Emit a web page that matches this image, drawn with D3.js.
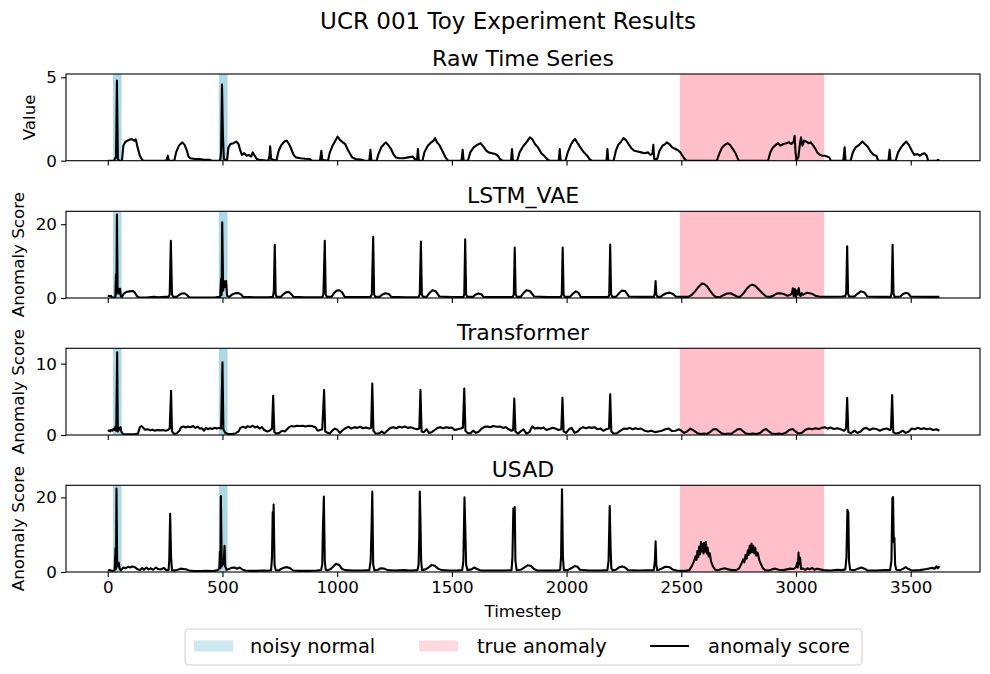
<!DOCTYPE html>
<html>
<head>
<meta charset="utf-8">
<title>UCR 001 Toy Experiment Results</title>
<script src="https://cdn.jsdelivr.net/npm/d3@7"></script>
<style>
  body { margin: 0; background: #fff; }
  svg { display: block; font-family: "DejaVu Sans", sans-serif; }
</style>
</head>
<body>
<div id="chart"></div>
<script>
// ---- data: [timestep, value] vertices ----
var rawSeries = [[0,0],[28,0],[32,0.15],[36,0.2],[40,4.8],[44,0.1],[50,0],[62,0],[68,0.9],[75,1.1],[85,1.2],[95,1.25],[105,1.3],[115,1.2],[122,1.28],[130,0.8],[140,0.3],[150,0.05],[158,0],
[255,0],[262,0.3],[266,0],[290,0],[298,0.5],[310,0.9],[325,1.1],[335,0.95],[345,0.6],[352,0.25],[360,0.15],[380,0.1],[400,0.1],[420,0.05],[445,0.05],[455,0],
[490,0],[494,0.5],[498,4.56],[502,1.5],[506,0.1],[520,0],[526,0.8],[535,1.0],[548,1.05],[560,1.15],[570,1.0],[578,0.6],[585,0.35],[595,0.45],[605,0.3],[615,0.35],[625,0.25],[632,0.5],[640,0.3],[650,0.1],[660,0.05],[700,0],[705,0.3],[708,0.86],[712,0.1],
[735,0],[745,0.6],[755,0.9],[770,1.15],[780,1.2],[790,1.0],[800,0.7],[810,0.35],[820,0.2],[840,0.15],[860,0.12],[880,0.1],[890,0],[925,0],[928,0.3],[931,0.6],[935,0.05],[960,0],[968,0.5],[980,0.9],[992,1.2],[1002,1.45],[1012,1.25],[1025,1.1],[1035,1.0],[1045,0.7],[1055,0.45],[1065,0.2],[1080,0.1],[1110,0.05],[1118,0],
[1140,0],[1145,0.65],[1149,0],[1172,0],[1180,0.4],[1192,0.8],[1205,1.0],[1212,1.1],[1222,0.95],[1235,0.7],[1245,0.4],[1255,0.2],[1270,0.15],[1290,0.15],[1310,0.2],[1330,0.25],[1338,0.1],[1348,0.05],[1352,0.7],[1356,0],
[1372,0],[1380,0.5],[1395,0.9],[1410,1.1],[1420,1.2],[1427,1.35],[1435,1.1],[1445,0.95],[1460,0.55],[1472,0.2],[1484,0],[1542,0],[1547,0.65],[1551,0],[1570,0],[1580,0.5],[1595,0.8],[1610,0.95],[1625,1.05],[1640,0.8],[1650,0.6],[1660,0.5],[1675,0.45],[1690,0.4],[1700,0.3],[1710,0.1],[1720,0],
[1758,0],[1762,0.7],[1766,0],[1785,0],[1795,0.5],[1810,0.85],[1825,1.1],[1840,1.4],[1850,1.3],[1862,1.0],[1875,0.8],[1890,0.45],[1905,0.25],[1915,0.1],[1925,0],[1966,0],[1970,0.7],[1974,0],
[1995,0],[2005,0.5],[2020,1.0],[2030,1.2],[2037,1.3],[2048,1.05],[2060,0.8],[2075,0.5],[2090,0.3],[2100,0.1],[2110,0],[2174,0],[2178,0.7],[2182,0],
[2205,0],[2215,0.6],[2225,0.95],[2238,1.15],[2248,1.35],[2258,1.25],[2270,1.0],[2282,0.75],[2295,0.6],[2310,0.55],[2325,0.5],[2340,0.45],[2355,0.5],[2365,0.35],[2374,0.4],[2378,0.95],[2382,0.1],[2395,0.1],[2405,0.6],[2418,0.9],[2430,1.0],[2437,1.1],[2448,1.0],[2460,0.8],[2475,0.7],[2488,0.6],[2496,0.5],[2505,0.3],[2515,0.1],[2522,0],
[2655,0],[2665,0.4],[2678,0.8],[2690,0.95],[2702,1.05],[2712,0.95],[2725,0.7],[2738,0.4],[2750,0],
[2878,0],[2888,0.5],[2900,0.8],[2912,0.95],[2922,1.05],[2932,0.9],[2945,1.0],[2958,1.05],[2970,1.1],[2980,1.0],[2990,1.15],[2994,1.5],[2998,0.5],[3002,0],[3010,0.2],[3018,1.1],[3022,1.4],[3028,0.9],[3035,1.2],[3045,1.15],[3055,1.05],[3065,1.1],[3075,0.9],[3085,0.7],[3095,0.45],[3105,0.35],[3115,0.3],[3125,0.3],[3135,0.25],[3145,0.2],[3152,0],
[3206,0],[3212,0.8],[3216,0],[3238,0],[3248,0.5],[3260,0.8],[3275,0.95],[3289,1.15],[3300,1.0],[3312,0.85],[3325,0.55],[3338,0.35],[3350,0.3],[3358,0],[3403,0],[3408,0.65],[3412,0],
[3434,0],[3445,0.5],[3458,0.8],[3470,1.0],[3481,1.15],[3492,0.95],[3505,0.6],[3515,0.35],[3530,0.4],[3540,0.3],[3550,0.4],[3560,0.45],[3570,0.3],[3576,0],[3615,0],[3619,0.05],[3625,0]];

var lstmSeries = [[0,0.6],[8,0.5],[14,0.6],[18,0.2],[25,0.15],[33,0.2],[36,6.5],[38,1],[40,22.6],[43,1.5],[47,2.5],[50,1.2],[54,2.5],[57,0.5],[62,0.3],[70,1.2],[80,1.6],[95,1.8],[110,1.9],[118,1.5],[126,0.6],[135,0.2],[170,0.1],[200,0.3],[220,0.2],[250,0.3],[265,0.3],[270,1],[275,15.5],[280,1],[285,0.3],[300,0.3],[310,0.8],[322,1.2],[335,1.3],[345,0.8],[355,0.2],[400,0.15],[470,0.2],[490,0.3],[494,5.2],[496,0.8],[499,20.5],[503,2],[508,4.5],[512,3],[516,4.6],[520,0.6],[530,0.3],[540,0.9],[555,1.3],[568,1.4],[580,1.0],[590,0.3],[640,0.2],[700,0.2],[720,0.3],[724,2],[728,14.4],[732,1],[736,0.3],[755,0.3],[765,1.0],[778,1.6],[790,1.6],[800,1.0],[810,0.3],[860,0.2],[935,0.2],[940,1],[946,15.5],[950,1],[955,0.3],[975,0.3],[985,1.2],[998,2.0],[1010,2.1],[1022,1.5],[1033,0.3],[1080,0.25],[1145,0.25],[1151,1],[1157,16.6],[1161,1],[1166,0.3],[1185,0.3],[1195,0.9],[1210,1.3],[1225,1.1],[1236,0.3],[1300,0.2],[1355,0.25],[1360,1],[1365,15.3],[1369,1],[1374,0.3],[1390,0.3],[1400,1.2],[1415,2.1],[1430,1.8],[1446,0.4],[1500,0.25],[1550,0.25],[1554,1],[1558,15.9],[1562,1],[1567,0.3],[1592,0.3],[1602,0.9],[1615,1.2],[1628,1.0],[1638,0.3],[1700,0.25],[1765,0.25],[1770,1],[1774,13.65],[1778,1],[1783,0.3],[1800,0.3],[1810,1.2],[1825,2.1],[1840,1.9],[1859,0.4],[1920,0.25],[1975,0.25],[1979,1],[1983,13.7],[1987,1],[1992,0.3],[2015,0.3],[2025,1.0],[2040,1.8],[2052,1.4],[2062,0.3],[2120,0.25],[2182,0.25],[2186,1],[2190,14.5],[2194,1],[2199,0.3],[2215,0.3],[2225,1.0],[2240,2.0],[2255,1.9],[2272,0.4],[2330,0.3],[2380,0.3],[2384,1],[2388,4.6],[2391,1],[2396,0.3],[2410,0.3],[2420,0.8],[2435,1.3],[2450,1.45],[2465,1.0],[2476,0.4],[2510,0.3],[2530,0.3],[2545,0.8],[2560,1.8],[2575,3.0],[2590,3.9],[2600,3.8],[2612,3.2],[2625,2.0],[2640,0.8],[2650,0.3],[2668,0.2],[2680,0.7],[2700,1.2],[2715,1.3],[2730,0.8],[2745,0.3],[2755,0.3],[2770,1.2],[2785,2.5],[2800,3.4],[2810,3.6],[2822,3.3],[2838,2.3],[2855,1.2],[2870,0.4],[2885,0.3],[2900,0.6],[2915,1.2],[2932,1.3],[2950,1.0],[2962,0.6],[2975,0.8],[2982,1.2],[2986,2.6],[2990,0.5],[2995,2.4],[3000,0.3],[3004,2.0],[3008,1.0],[3012,2.7],[3016,0.8],[3020,0.5],[3025,1.3],[3030,0.9],[3040,1.2],[3050,1.4],[3060,1.3],[3072,1.1],[3085,0.6],[3100,0.4],[3150,0.35],[3200,0.4],[3215,0.5],[3219,1.5],[3223,14.0],[3227,1.2],[3232,0.4],[3255,0.4],[3265,1.0],[3282,1.8],[3298,1.5],[3311,0.4],[3380,0.3],[3413,0.3],[3417,1.5],[3421,14.4],[3425,1.2],[3430,0.3],[3455,0.4],[3465,1.0],[3478,1.4],[3490,1.2],[3500,0.4],[3560,0.3],[3600,0.35],[3625,0.3]];

var transformerSeries = [[0,0.55],[6,0.65],[10,0.5],[15,0.7],[20,0.6],[25,0.85],[30,0.7],[34,1.2],[37,0.6],[41,11.6],[44,0.5],[48,1.0],[52,0.8],[56,1.1],[60,0.4],[66,0.15],[80,0.1],[100,0.1],[120,0.12],[132,0.2],[140,1.1],[148,1.25],[155,1.0],[162,0.75],[175,0.8],[185,0.65],[195,0.75],[205,0.6],[215,0.7],[228,0.65],[240,0.7],[252,0.6],[262,0.7],[270,0.9],[276,6.2],[280,0.5],[290,0.15],[300,0.2],[312,0.6],[320,1.1],[330,1.2],[340,1.05],[350,1.2],[360,1.1],[372,1.25],[382,1.0],[392,1.15],[402,0.9],[410,0.95],[420,0.6],[428,1.0],[436,0.8],[446,0.95],[456,0.85],[466,1.0],[476,0.9],[486,1.0],[494,0.9],[500,10.2],[504,0.8],[512,0.3],[525,0.15],[540,0.15],[555,0.2],[570,0.5],[578,1.0],[590,1.15],[600,1.0],[610,1.25],[620,1.1],[632,1.3],[642,1.05],[652,1.2],[662,0.9],[672,1.1],[682,0.7],[695,0.5],[705,0.6],[716,0.9],[721,5.5],[726,0.4],[735,0.2],[748,0.3],[760,0.6],[772,0.5],[790,1.1],[800,1.25],[812,1.2],[825,1.3],[838,1.25],[850,1.3],[862,1.2],[875,1.3],[890,1.25],[905,1.1],[915,0.6],[925,0.7],[935,0.8],[943,6.3],[948,0.5],[958,0.3],[968,0.2],[978,0.6],[990,0.9],[1000,0.75],[1012,0.3],[1025,0.7],[1038,1.0],[1050,1.15],[1062,0.9],[1075,1.1],[1088,1.0],[1100,1.15],[1112,0.95],[1125,1.05],[1140,0.9],[1148,1.0],[1153,7.2],[1158,0.6],[1168,0.2],[1182,0.2],[1195,0.5],[1205,0.2],[1218,0.6],[1232,1.0],[1245,1.1],[1258,0.95],[1270,1.15],[1282,1.05],[1295,1.2],[1308,1.0],[1320,1.1],[1335,0.9],[1348,0.8],[1358,0.9],[1363,6.3],[1368,0.5],[1378,0.4],[1390,0.8],[1400,0.3],[1412,0.4],[1425,0.7],[1438,1.0],[1450,1.1],[1462,0.95],[1475,1.1],[1488,1.0],[1500,1.05],[1512,0.7],[1525,0.8],[1538,0.9],[1548,1.0],[1554,6.5],[1559,0.6],[1568,0.3],[1580,0.2],[1592,0.6],[1605,0.3],[1618,0.5],[1630,0.9],[1642,1.15],[1655,1.2],[1668,1.1],[1680,1.25],[1695,1.15],[1710,1.2],[1722,1.0],[1735,1.1],[1748,0.8],[1760,0.6],[1767,0.7],[1772,5.1],[1777,0.5],[1788,0.2],[1800,0.5],[1812,0.8],[1825,0.2],[1838,0.4],[1850,1.2],[1862,0.9],[1875,1.0],[1888,0.9],[1900,1.05],[1912,0.7],[1925,0.85],[1940,1.0],[1952,0.9],[1965,0.7],[1977,0.8],[1982,5.2],[1987,0.5],[1998,0.3],[2010,0.8],[2022,1.0],[2035,0.3],[2048,0.5],[2060,0.9],[2072,1.1],[2085,0.95],[2098,1.1],[2110,1.0],[2122,1.1],[2135,0.8],[2148,0.9],[2160,0.6],[2172,0.8],[2185,0.9],[2190,5.7],[2195,0.5],[2205,0.2],[2220,0.25],[2235,0.6],[2250,0.9],[2262,0.85],[2275,1.0],[2288,0.8],[2300,0.95],[2312,0.85],[2325,0.9],[2340,0.6],[2355,0.5],[2370,0.6],[2385,0.4],[2400,0.5],[2415,0.6],[2430,0.8],[2445,0.9],[2460,0.55],[2475,0.6],[2490,0.8],[2500,0.6],[2512,0.3],[2525,0.5],[2540,0.9],[2555,0.6],[2570,0.25],[2585,0.15],[2600,0.2],[2612,0.15],[2625,0.4],[2640,0.8],[2652,0.85],[2665,0.5],[2678,0.2],[2692,0.15],[2705,0.2],[2718,0.15],[2730,0.45],[2745,0.8],[2758,0.85],[2770,0.5],[2782,0.2],[2798,0.15],[2812,0.2],[2828,0.15],[2845,0.3],[2858,0.7],[2870,0.85],[2882,0.5],[2895,0.2],[2910,0.15],[2925,0.2],[2940,0.15],[2955,0.3],[2970,0.7],[2985,0.85],[2998,0.5],[3010,0.2],[3025,0.3],[3040,0.7],[3055,0.9],[3070,0.8],[3085,0.95],[3100,0.85],[3112,1.0],[3125,1.1],[3138,0.9],[3150,1.05],[3165,0.85],[3180,0.95],[3195,0.8],[3210,0.6],[3218,0.9],[3223,5.2],[3228,0.4],[3240,0.25],[3255,0.6],[3268,0.3],[3282,0.5],[3295,0.9],[3307,1.0],[3320,0.7],[3335,0.9],[3350,0.85],[3365,0.6],[3380,0.8],[3395,0.9],[3410,0.7],[3414,0.9],[3419,5.6],[3424,0.4],[3435,0.2],[3450,0.3],[3465,0.6],[3478,0.3],[3492,0.5],[3505,0.9],[3518,0.8],[3530,1.0],[3545,0.85],[3558,0.95],[3570,0.8],[3585,0.9],[3598,0.7],[3612,0.8],[3625,0.6]];

var usadSeries = [[0,0.4],[10,0.5],[20,0.3],[30,0.4],[34,6.5],[36,0.8],[38,22.4],[41,2.5],[44,1.5],[48,2.5],[52,0.8],[58,0.5],[68,1.2],[78,1.0],[88,1.4],[98,1.2],[108,1.5],[118,1.3],[128,0.8],[140,0.5],[150,1.1],[158,0.6],[168,1.2],[178,0.7],[188,1.0],[198,0.6],[210,1.2],[220,0.8],[232,0.7],[244,1.1],[255,0.5],[265,0.5],[268,3],[272,15.6],[276,4],[280,0.5],[290,0.4],[305,0.6],[318,0.9],[330,0.8],[342,0.7],[355,0.4],[370,0.3],[400,0.25],[430,0.3],[460,0.25],[480,0.5],[486,1],[489,5.5],[491,1],[493,20.4],[497,1.5],[501,3],[505,2],[509,7.0],[512,1.5],[518,0.6],[528,0.8],[540,1.1],[552,1.2],[565,0.9],[575,1.2],[588,0.6],[600,0.4],[620,0.3],[650,0.3],[680,0.4],[700,0.35],[712,0.5],[716,4],[719,16],[721,10],[723,18.1],[727,2],[732,0.5],[745,0.4],[758,0.9],[770,1.2],[782,1.3],[795,1.0],[808,0.4],[840,0.3],[880,0.3],[910,0.4],[930,0.5],[935,2],[938,12],[942,20.2],[946,3],[950,0.6],[960,0.5],[972,0.8],[985,1.6],[995,2.2],[1010,1.8],[1022,0.8],[1035,0.5],[1070,0.4],[1110,0.4],[1140,0.5],[1146,3],[1150,12],[1153,21.6],[1157,2],[1162,0.5],[1178,0.6],[1190,1.0],[1205,0.9],[1220,0.5],[1250,0.4],[1290,0.5],[1320,0.4],[1350,0.5],[1355,2],[1358,10],[1360,21.6],[1363,14],[1366,3],[1370,0.5],[1385,0.7],[1398,1.2],[1412,1.9],[1425,1.7],[1440,0.9],[1455,0.5],[1490,0.4],[1520,0.4],[1545,0.5],[1550,3],[1555,20.0],[1559,10],[1562,2],[1568,0.5],[1585,0.7],[1597,1.2],[1610,0.8],[1625,0.4],[1680,0.4],[1730,0.4],[1760,0.5],[1764,4],[1768,17.0],[1771,14],[1774,17.4],[1777,3],[1782,0.5],[1800,0.6],[1815,1.2],[1830,1.8],[1845,1.6],[1858,0.8],[1872,0.4],[1920,0.4],[1960,0.4],[1972,0.6],[1976,4],[1980,22.2],[1984,4],[1988,0.5],[2005,0.5],[2020,1.0],[2035,1.6],[2048,1.4],[2058,0.6],[2100,0.4],[2150,0.4],[2178,0.5],[2183,3],[2188,17.7],[2192,6],[2195,1.0],[2200,0.5],[2215,0.6],[2230,1.3],[2242,1.5],[2255,1.2],[2268,0.5],[2310,0.4],[2350,0.45],[2380,0.5],[2385,3],[2388,8.2],[2391,2],[2395,0.5],[2405,0.7],[2418,1.0],[2430,1.4],[2448,1.3],[2462,0.7],[2480,0.4],[2500,0.3],[2520,0.3],[2535,0.5],[2545,1.5],[2555,2.8],[2562,4.2],[2566,3.2],[2570,5.6],[2574,4.0],[2578,6.8],[2582,4.8],[2586,8.0],[2590,5.5],[2594,7.5],[2597,5.0],[2600,7.8],[2604,5.5],[2607,8.0],[2611,5.0],[2615,6.5],[2619,4.2],[2624,5.0],[2630,2.8],[2638,1.5],[2648,0.6],[2660,0.5],[2675,0.8],[2690,1.0],[2705,0.7],[2720,0.5],[2740,0.5],[2752,1.0],[2762,2.2],[2770,3.4],[2775,2.6],[2780,4.6],[2785,3.6],[2790,5.8],[2794,4.6],[2798,7.0],[2802,5.2],[2806,7.6],[2810,5.4],[2814,7.0],[2818,5.0],[2822,6.5],[2827,4.4],[2833,5.2],[2840,3.2],[2848,2.0],[2856,1.0],[2866,0.5],[2880,0.4],[2895,0.7],[2910,0.9],[2925,0.6],[2945,0.5],[2960,0.7],[2975,0.9],[2990,0.8],[3000,1.3],[3005,2.5],[3008,1.2],[3011,5.2],[3014,2.0],[3018,3.8],[3022,0.8],[3030,1.0],[3040,0.6],[3050,1.0],[3060,0.7],[3070,1.1],[3080,0.6],[3092,0.9],[3105,0.7],[3120,0.5],[3150,0.4],[3180,0.6],[3200,0.5],[3215,0.7],[3220,4],[3224,16.7],[3228,16],[3231,3],[3236,0.6],[3255,0.5],[3270,0.9],[3285,1.2],[3298,0.9],[3312,0.4],[3350,0.4],[3390,0.5],[3410,0.5],[3416,3],[3420,19.8],[3423,20.1],[3426,8],[3429,9.1],[3432,2],[3437,0.6],[3455,0.5],[3468,0.9],[3478,1.3],[3490,0.8],[3505,0.4],[3540,0.5],[3570,0.8],[3590,1.1],[3605,0.9],[3612,1.5],[3618,1.0],[3625,1.6]];

var noisyNormal = [[23, 60], [484, 522]];
var trueAnomaly = [[2494, 3123]];

var panelTitles = ["Raw Time Series", "LSTM_VAE", "Transformer", "USAD"];
var panelYLabels = ["Value", "Anomaly Score", "Anomaly Score", "Anomaly Score"];
var panelYMax = [5.2, 23.5, 12.15, 23.25];
var panelYTicks = [[0, 5], [0, 20], [0, 10], [0, 20]];
var xTicks = [0, 500, 1000, 1500, 2000, 2500, 3000, 3500];
var legendLabels = ["noisy normal", "true anomaly", "anomaly score"];

var allSeries = [rawSeries, lstmSeries, transformerSeries, usadSeries];

// ---- layout ----
var W = 990, H = 674;
var axLeft = 66, axRight = 980;
var axTops = [74, 211.3, 348.3, 485.3];
var axH = 86.7;
var intFmt = d3.format("d");

var svg = d3.select("#chart").append("svg")
  .attr("width", W).attr("height", H);
svg.append("rect").attr("width", W).attr("height", H).attr("fill", "#fff");

var x = d3.scaleLinear().domain([-182, 3802]).range([axLeft, axRight]);

svg.append("text")
  .attr("x", 508).attr("y", 29)
  .attr("text-anchor", "middle")
  .attr("font-size", "23px")
  .text("UCR 001 Toy Experiment Results");

allSeries.forEach(function (series, i) {
  var top = axTops[i], bottom = top + axH;
  var y = d3.scaleLinear().domain([0, panelYMax[i]]).range([bottom, top]);
  var g = svg.append("g");

  g.append("clipPath").attr("id", "clip" + i)
    .append("rect").attr("x", axLeft).attr("y", top)
    .attr("width", axRight - axLeft).attr("height", axH);

  var plot = g.append("g").attr("clip-path", "url(#clip" + i + ")");

  plot.selectAll("rect.blue").data(noisyNormal).enter().append("rect")
    .attr("x", function (d) { return x(d[0]); })
    .attr("width", function (d) { return x(d[1]) - x(d[0]); })
    .attr("y", top).attr("height", axH)
    .attr("fill", "#add8e6");

  plot.selectAll("rect.pink").data(trueAnomaly).enter().append("rect")
    .attr("x", function (d) { return x(d[0]); })
    .attr("width", function (d) { return x(d[1]) - x(d[0]); })
    .attr("y", top).attr("height", axH)
    .attr("fill", "#ffc0cb");

  var line = d3.line()
    .x(function (d) { return x(d[0]); })
    .y(function (d) { return y(d[1]); });

  plot.append("path").datum(series)
    .attr("d", line)
    .attr("fill", "none")
    .attr("stroke", "#000")
    .attr("stroke-width", 2.1)
    .attr("stroke-linejoin", "round");

  // axes
  var yAxis = d3.axisLeft(y).tickValues(panelYTicks[i]).tickFormat(intFmt)
    .tickSize(4.9).tickPadding(4.2).tickSizeOuter(0);
  var ya = g.append("g").attr("transform", "translate(" + axLeft + ",0)").call(yAxis);
  ya.select(".domain").remove();
  ya.selectAll("text").attr("font-size", "16.7px").attr("font-family", "DejaVu Sans, sans-serif").attr("fill", "#000");
  ya.selectAll("line").attr("stroke", "#000").attr("stroke-width", 1.1);

  var xAxis = d3.axisBottom(x).tickValues(xTicks).tickFormat(i < 3 ? "" : intFmt)
    .tickSize(4.9).tickPadding(4.2).tickSizeOuter(0);
  var xa = g.append("g").attr("transform", "translate(0," + bottom + ")").call(xAxis);
  xa.select(".domain").remove();
  xa.selectAll("text").attr("font-size", "16.7px").attr("font-family", "DejaVu Sans, sans-serif").attr("fill", "#000");
  xa.selectAll("line").attr("stroke", "#000").attr("stroke-width", 1.1);

  g.append("rect")
    .attr("x", axLeft).attr("y", top)
    .attr("width", axRight - axLeft).attr("height", axH)
    .attr("fill", "none").attr("stroke", "#000").attr("stroke-width", 1.1);

  g.append("text")
    .attr("x", (axLeft + axRight) / 2).attr("y", top - 8)
    .attr("text-anchor", "middle")
    .attr("font-size", "22px")
    .text(panelTitles[i]);

  var labX = i === 0 ? 35 : 24;
  g.append("text")
    .attr("transform", "translate(" + labX + "," + (top + axH / 2) + ") rotate(-90)")
    .attr("text-anchor", "middle")
    .attr("font-size", "16.7px")
    .text(panelYLabels[i]);
});

svg.append("text")
  .attr("x", (axLeft + axRight) / 2).attr("y", 617)
  .attr("text-anchor", "middle")
  .attr("font-size", "16.7px")
  .text("Timestep");

// legend
var lg = svg.append("g");
lg.append("rect")
  .attr("x", 185).attr("y", 629).attr("width", 677).attr("height", 36)
  .attr("rx", 4).attr("fill", "#fff").attr("stroke", "#d0d0d0").attr("stroke-width", 1.1);

var legendHandles = [
  { x0: 194, color: "#add8e6", width: 11, opacity: 0.6, tx: 250 },
  { x0: 419, color: "#ffc0cb", width: 11, opacity: 0.6, tx: 477 },
  { x0: 650, color: "#000", width: 2, opacity: 1, tx: 708 }
];
legendHandles.forEach(function (h, k) {
  lg.append("line")
    .attr("x1", h.x0).attr("x2", h.x0 + 39)
    .attr("y1", 646).attr("y2", 646)
    .attr("stroke", h.color).attr("stroke-width", h.width)
    .attr("stroke-opacity", h.opacity);
  lg.append("text")
    .attr("x", h.tx).attr("y", 653)
    .attr("font-size", "19.4px")
    .text(legendLabels[k]);
});
</script>
</body>
</html>
